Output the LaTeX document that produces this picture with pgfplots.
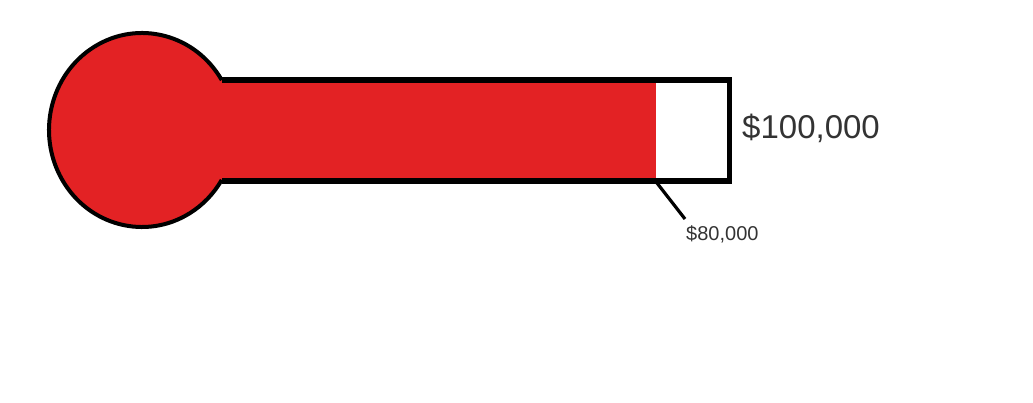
\documentclass[border=0pt]{standalone}
\usepackage{pgfplots}
\pgfplotsset{compat=1.18}
\usepackage{fontspec}
\setmainfont{Liberation Sans}
\definecolor{thermred}{RGB}{227,34,36}
\definecolor{txt}{RGB}{51,51,51}
\begin{document}
\begin{tikzpicture}
\begin{axis}[scale only axis, width=1033pt, height=402pt, hide axis,
  xmin=-99045, xmax=182810, ymin=0, ymax=402, clip=false]
% bulb
\fill[thermred] (axis cs:-60300,272) ellipse [x radius=93pt, y radius=97pt];
% mercury column (raised so far)
\addplot[fill=thermred, draw=none] coordinates {(-40382,319.5) (80000,319.5) (80000,223.5) (-40382,223.5)} --cycle;
% bulb outline
\draw[line width=4pt] (axis cs:-60300,272) ++(31:93pt and 97pt) arc[start angle=31, end angle=329, x radius=93pt, y radius=97pt];
% tube outline up to the goal
\addplot[black, line width=5.5pt, line join=miter, mark=none] coordinates {(-38550,322) (100000,322) (100000,221) (-38550,221)};
% pointer
\addplot[black, line width=3.2pt, mark=none] coordinates {(80000,220) (87858,183)};
\node[anchor=base west, inner sep=0, text=txt, font=\fontsize{20}{24}\selectfont] at (axis cs:88131,161) {\$80,000};
\node[anchor=base west, inner sep=0, text=txt, font=\fontsize{33}{38}\selectfont] at (axis cs:103410,263) {\$100,000};
\end{axis}
\path (current axis.south west) rectangle (current axis.north east);
\end{tikzpicture}
\end{document}
